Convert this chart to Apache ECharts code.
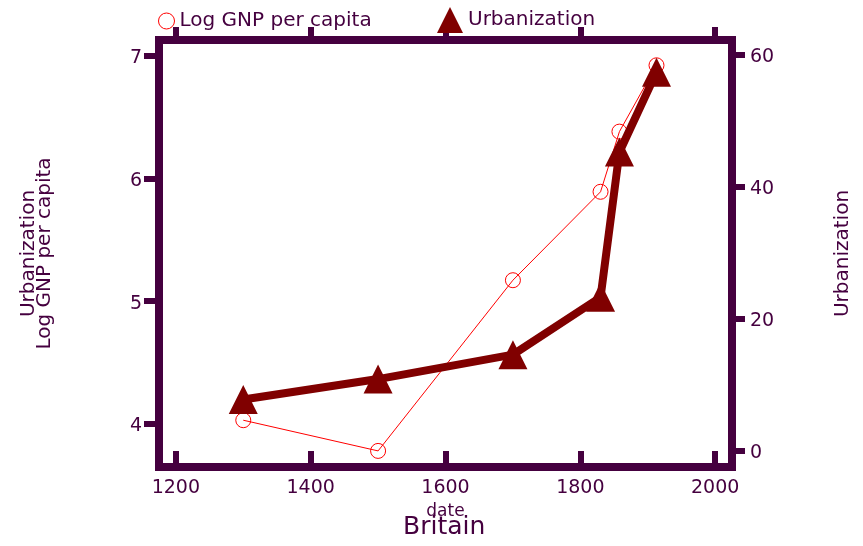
<!DOCTYPE html>
<html>
<head>
<meta charset="utf-8">
<script src="https://cdn.jsdelivr.net/npm/echarts@6/dist/echarts.min.js"></script>
<style>
html,body{margin:0;padding:0;background:#fff;}
#chart{width:863px;height:546px;}
</style>
</head>
<body>
<div id="chart"></div>
<script>
const dates = [1300, 1500, 1700, 1830, 1858, 1913];
const logGnp = [4.03, 3.78, 5.17, 5.89, 6.38, 6.92];
const urbanization = [7.8, 10.9, 14.6, 23.3, 45.3, 57.4];
const xTicks = [1200, 1400, 1600, 1800, 2000];
const leftTicks = [4, 5, 6, 7];
const rightTicks = [0, 20, 40, 60];

const PURPLE = '#45003f';
const FONT = 'DejaVu Sans';

const chart = echarts.init(document.getElementById('chart'), null, {renderer: 'canvas'});

function tickAxisCommon(ticks, len) {
  return {
    axisLine: {show: false},
    splitLine: {show: false},
    axisTick: {show: true, inside: false, length: len, customValues: ticks,
      lineStyle: {color: PURPLE, width: 6}},
  };
}
const plain = v => String(v);
const shifted = v => '{s|' + v + '}';
const shiftRich = {s: {fontFamily: FONT, fontSize: 19, color: PURPLE, padding: [5, 0, 0, 0]}};

const option = {
  backgroundColor: '#fff',
  animation: false,
  title: {
    text: 'Britain',
    left: 403, top: 515, padding: 0,
    textStyle: {fontFamily: FONT, fontSize: 25, fontWeight: 'normal', color: PURPLE}
  },
  legend: [
    {
      data: ['Log GNP per capita'],
      left: 158, top: 11, padding: 0,
      itemWidth: 16, itemHeight: 16, icon: 'circle',
      itemStyle: {color: 'rgba(0,0,0,0)', borderColor: '#ff0000', borderWidth: 1},
      textStyle: {fontFamily: FONT, fontSize: 20, color: PURPLE}
    },
    {
      data: ['Urbanization'],
      left: 437, top: 7, padding: 0,
      itemWidth: 26, itemHeight: 26, icon: 'triangle',
      textStyle: {fontFamily: FONT, fontSize: 20, color: PURPLE}
    }
  ],
  grid: {
    left: 159, top: 40, width: 573, height: 427,
    show: true, borderWidth: 8, borderColor: PURPLE, backgroundColor: 'rgba(0,0,0,0)'
  },
  xAxis: [
    Object.assign({
      type: 'value', position: 'bottom', min: 1175, max: 2025,
      name: 'date', nameLocation: 'middle', nameGap: 32,
      nameTextStyle: {fontFamily: FONT, fontSize: 17, color: PURPLE},
      axisLabel: {customValues: xTicks, formatter: plain, margin: 12, fontFamily: FONT, fontSize: 19, color: PURPLE}
    }, tickAxisCommon(xTicks, 13)),
    Object.assign({
      type: 'value', position: 'top', min: 1175, max: 2025,
      axisLabel: {show: false}
    }, tickAxisCommon(xTicks, 13))
  ],
  yAxis: [
    Object.assign({
      type: 'value', position: 'left', min: 3.649, max: 7.126,
      name: 'Urbanization\nLog GNP per capita', nameLocation: 'middle', nameGap: 106, nameRotate: 90,
      nameTextStyle: {fontFamily: FONT, fontSize: 20, color: PURPLE, lineHeight: 16, align: 'center'},
      axisLabel: {customValues: leftTicks, formatter: shifted, rich: shiftRich, margin: 17, fontFamily: FONT, fontSize: 19, color: PURPLE}
    }, tickAxisCommon(leftTicks, 15)),
    Object.assign({
      type: 'value', position: 'right', min: -2.42, max: 62.27,
      name: 'Urbanization', nameLocation: 'middle', nameGap: 101, nameRotate: 90,
      nameTextStyle: {fontFamily: FONT, fontSize: 20, color: PURPLE},
      axisLabel: {customValues: rightTicks, formatter: shifted, rich: shiftRich, margin: 18, fontFamily: FONT, fontSize: 19, color: PURPLE}
    }, tickAxisCommon(rightTicks, 13))
  ],
  series: [
    {
      name: 'Log GNP per capita', type: 'line', xAxisIndex: 0, yAxisIndex: 0,
      data: dates.map((d, i) => [d, logGnp[i]]),
      symbol: 'circle', symbolSize: 15,
      lineStyle: {color: '#ff0000', width: 1},
      itemStyle: {color: 'rgba(0,0,0,0)', borderColor: '#ff0000', borderWidth: 1},
      z: 2
    },
    {
      name: 'Urbanization', type: 'line', xAxisIndex: 0, yAxisIndex: 1,
      data: dates.map((d, i) => [d, urbanization[i]]),
      symbol: 'triangle', symbolSize: [29, 29],
      lineStyle: {color: '#800000', width: 8},
      itemStyle: {color: '#800000'},
      z: 3
    }
  ]
};
chart.setOption(option);
</script>
</body>
</html>
